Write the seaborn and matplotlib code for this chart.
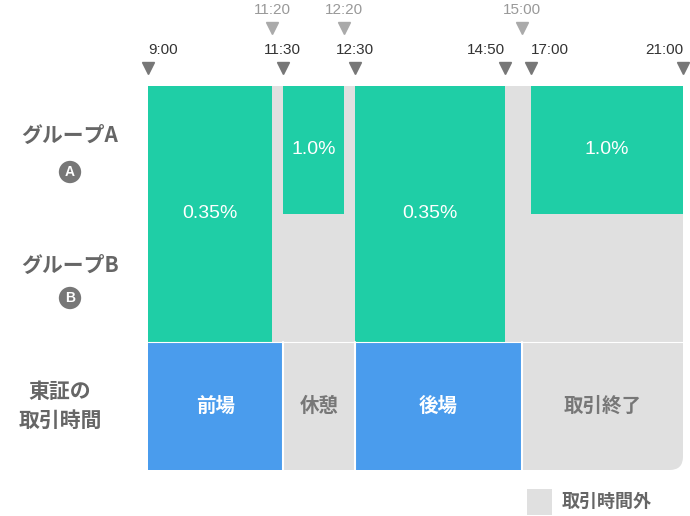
import numpy as np
import matplotlib.pyplot as plt
import seaborn as sns
from matplotlib.patches import FancyBboxPatch

sns.set_style("white")
plt.rcParams['font.family'] = ['Noto Sans CJK JP', 'DejaVu Sans']

# time scale breakpoints (hours) and their share of the axis width
break_hours = [9.0, 11 + 20/60, 11.5, 12 + 20/60, 12.5, 14 + 50/60, 15.0, 17.0, 21.0]
break_pos = [0.0, 0.232, 0.252, 0.366, 0.387, 0.667, 0.699, 0.716, 1.0]

def fwd(h):
    return np.interp(h, break_hours, break_pos)

def inv(p):
    return np.interp(p, break_pos, break_hours)

# group bars: start, end, rows covered (bottom, top), label
grp_start = [9.0, 11.5, 12.5, 17.0]
grp_end = [11 + 20/60, 12 + 20/60, 14 + 50/60, 21.0]
grp_bottom = [1, 2, 1, 2]
grp_label = ["0.35%", "1.0%", "0.35%", "1.0%"]

# exchange sessions
tse_start = [9.0, 11.5, 12.5, 15.0]
tse_end = [11.5, 12.5, 15.0, 21.0]
tse_label = ["前場", "休憩", "後場", "取引終了"]
tse_open = [True, False, True, False]

main_ticks = ["9:00", "11:30", "12:30", "14:50", "17:00", "21:00"]
main_align = ["left", "center", "center", "right", "left", "right"]
sub_ticks = ["11:20", "12:20", "15:00"]

def to_h(s):
    a, b = s.split(":")
    return int(a) + int(b) / 60

num_font = ['Liberation Sans', 'DejaVu Sans']

fig = plt.figure(figsize=(6.9, 5.16), dpi=100)
ax = fig.add_axes([148/690, 46/516, 535/690, 384/516])
ax.set_xscale('function', functions=(fwd, inv))
ax.set_xlim(9, 21)
ax.set_ylim(0, 3)
ax.axis('off')

grey = "#e0e0e0"
ax.add_patch(FancyBboxPatch((0, 0), 1, 1, boxstyle="round,pad=0,rounding_size=0.025",
                            transform=ax.transAxes, fc=grey, ec="none", mutation_aspect=535/384))

green = "#1fcea6"
for s, e, b, lab in zip(grp_start, grp_end, grp_bottom, grp_label):
    ax.bar(s, 3 - b, width=e - s, bottom=b, align='edge', color=green, lw=0)
    mid = inv((fwd(s) + fwd(e)) / 2)
    ax.text(mid, (b + 3) / 2, lab, ha='center', va='center', color='white',
            fontsize=14, family=num_font)

blue = "#4a9ced"
for s, e, lab, op in zip(tse_start, tse_end, tse_label, tse_open):
    if op:
        ax.bar(s, 1, width=e - s, bottom=0, align='edge', color=blue, lw=0)
    mid = inv((fwd(s) + fwd(e)) / 2)
    ax.text(mid, 0.5, lab, ha='center', va='center', fontsize=14, fontweight='bold',
            color='white' if op else '#777777')
for x in [11.5, 12.5, 15.0]:
    ax.axvline(x, 0, 1/3, color='white', lw=1.5)
ax.axhline(1, color='white', lw=0.8)

# top tick markers
for t, ha in zip(main_ticks, main_align):
    h = to_h(t)
    ax.plot(h, 3.14, marker='v', color='#777777', ms=8, clip_on=False)
    ax.text(h, 3.28, t, ha=ha, va='center', fontsize=11, color='#333333',
            clip_on=False, family=num_font)
for t in sub_ticks:
    h = to_h(t)
    ax.plot(h, 3.45, marker='v', color='#aaaaaa', ms=8, clip_on=False)
    ax.text(h, 3.59, t, ha='center', va='center', fontsize=11, color='#999999',
            clip_on=False, family=num_font)

# row labels
for ny, by, name, badge in [(135, 172, "グループA", "A"), (265, 298, "グループB", "B")]:
    fig.text(70/690, 1 - ny/516, name, ha='center', va='center',
             fontsize=15, fontweight='bold', color='#666666')
    fig.text(70/690, 1 - by/516, badge, ha='center', va='center',
             fontsize=10, fontweight='bold', color='white', family=num_font,
             bbox=dict(boxstyle='circle,pad=0.3', fc='#777777', ec='none'))
fig.text(60/690, 1 - 406/516, "東証の\n取引時間", ha='center', va='center',
         fontsize=15, fontweight='bold', color='#666666', linespacing=1.5)

# legend
fig.add_artist(plt.Rectangle((527/690, 1 - 515/516), 25/690, 26/516,
                             transform=fig.transFigure, fc=grey, ec='none'))
fig.text(562/690, 1 - 501/516, "取引時間外", fontsize=13, fontweight='bold',
         color='#666666', va='center')

fig.savefig("out.png", dpi=100)
